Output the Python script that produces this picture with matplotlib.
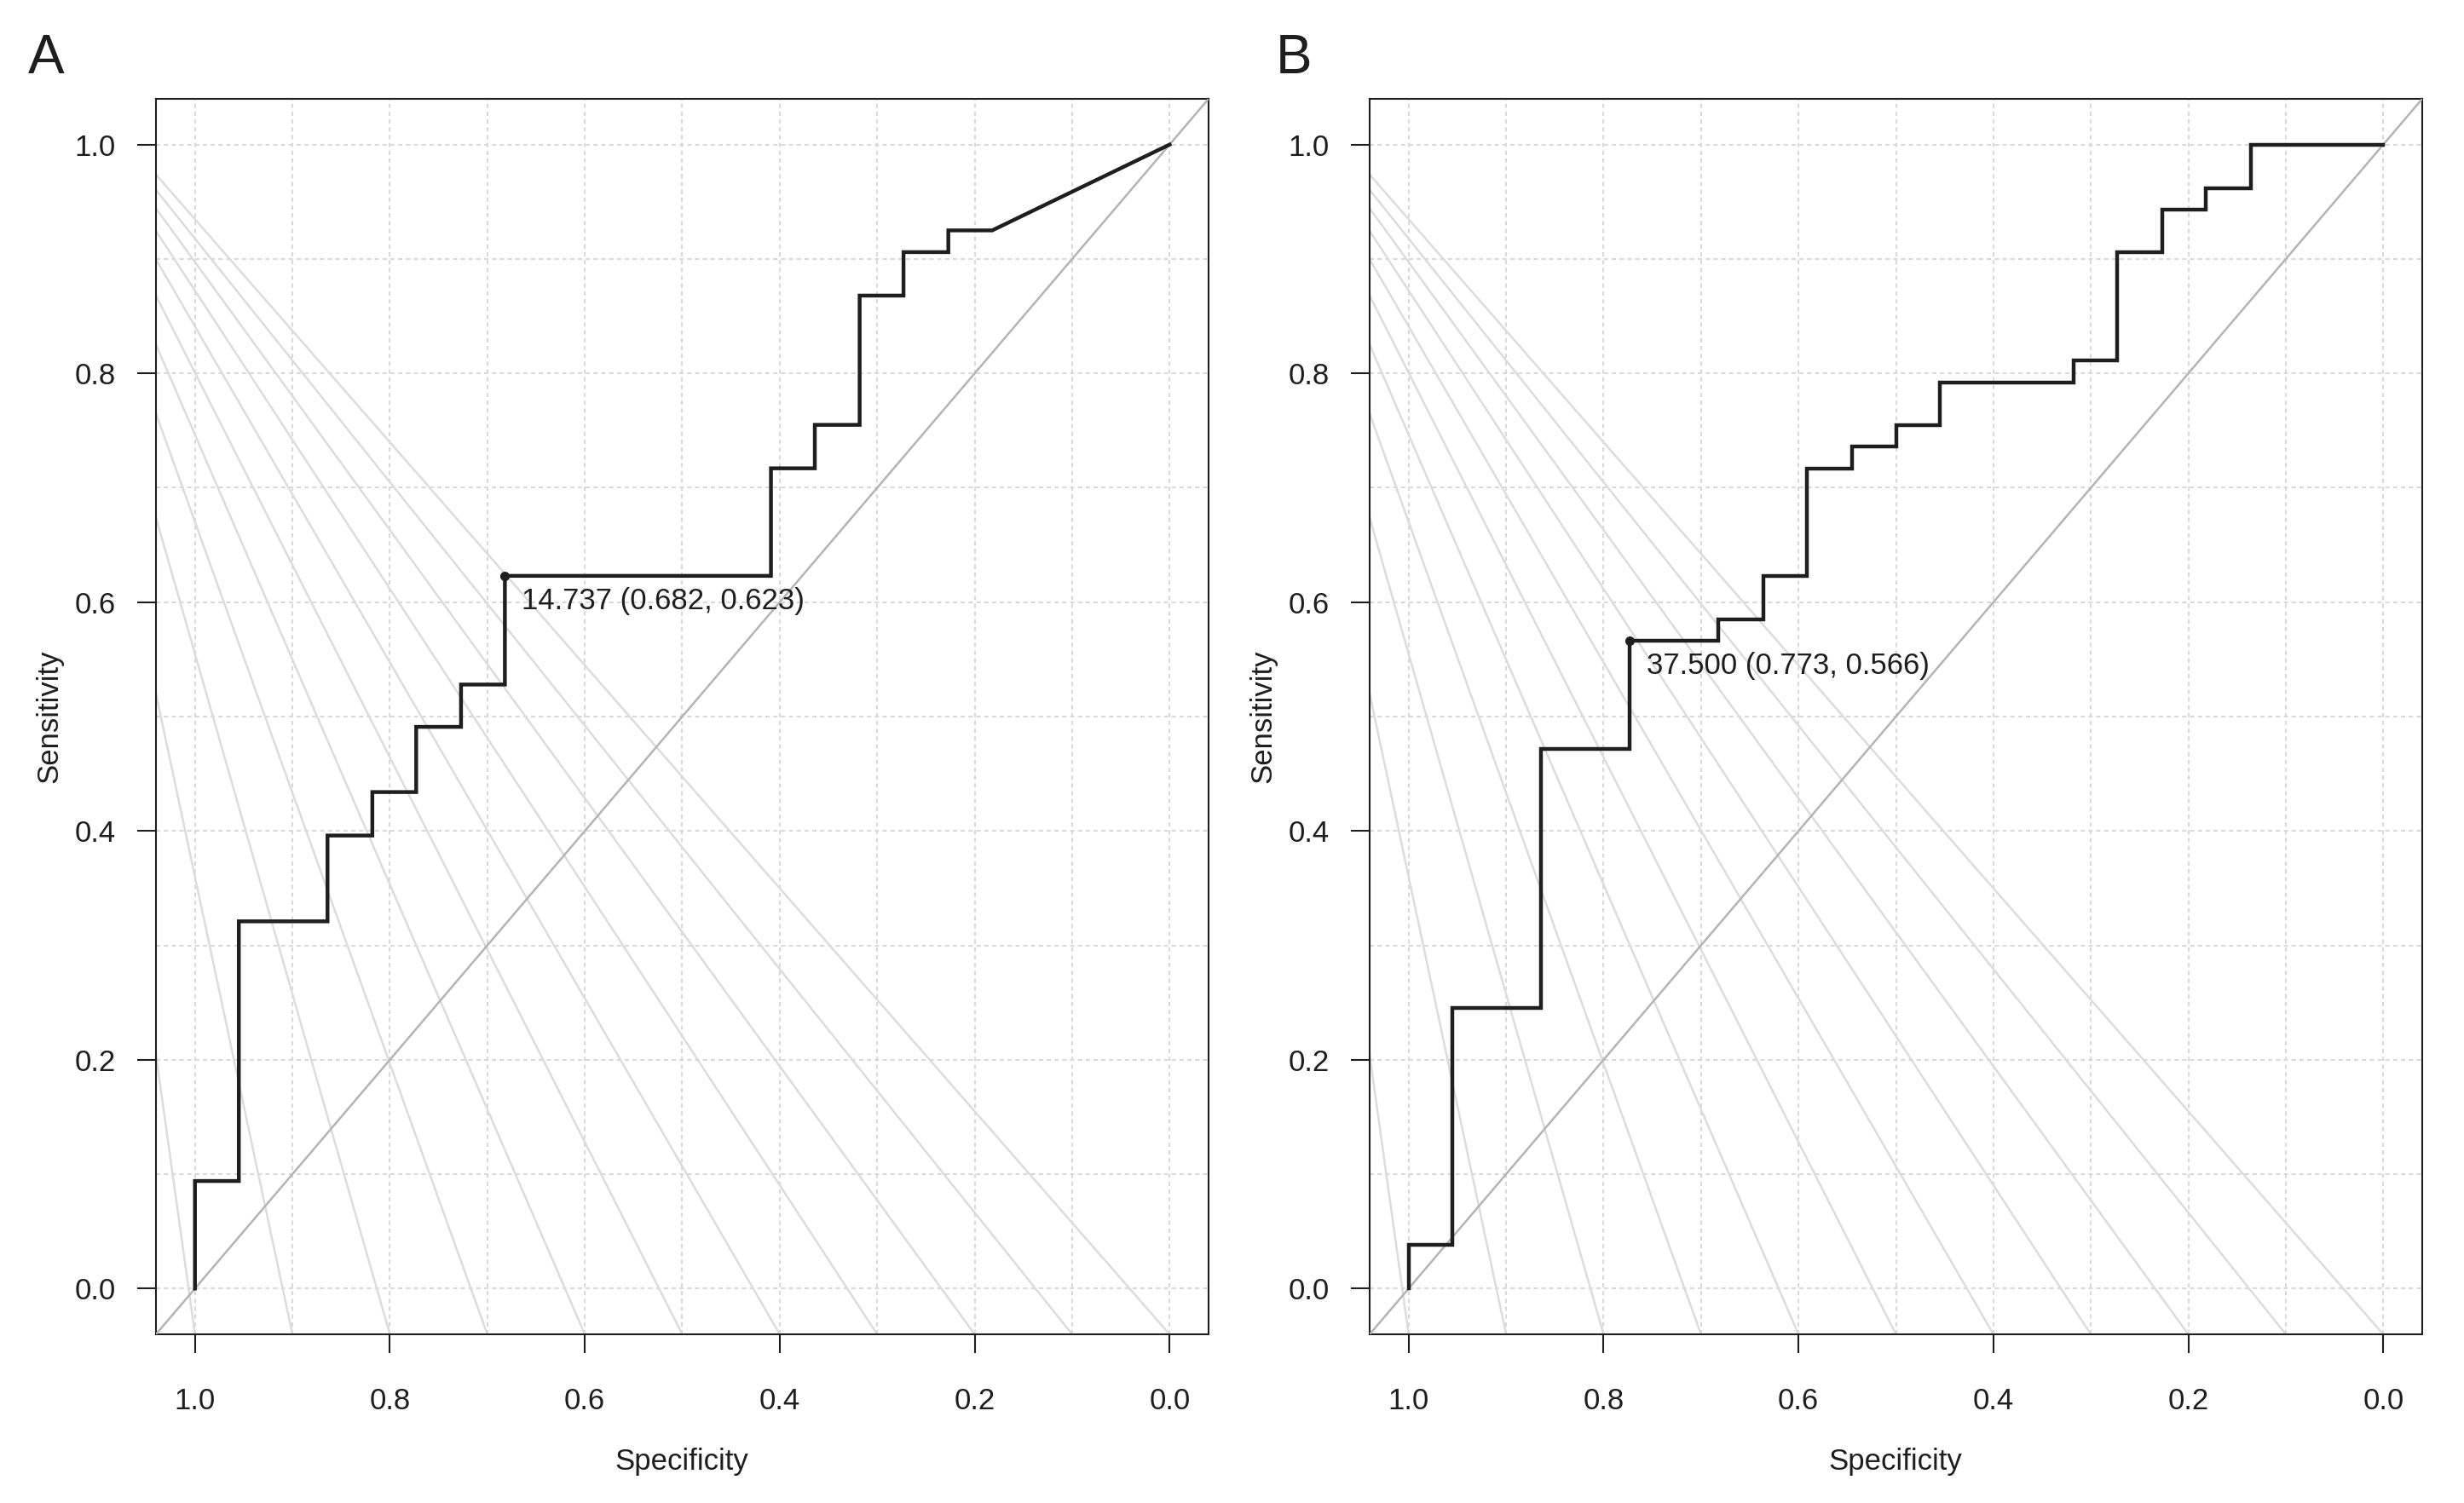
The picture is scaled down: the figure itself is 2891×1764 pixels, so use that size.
import matplotlib
matplotlib.use('Agg')
import numpy as np
import matplotlib.pyplot as plt

plt.rcParams['font.family'] = ['Liberation Sans', 'DejaVu Sans']

# ROC curve A (specificity, sensitivity)
spec_a = [1.0, 1.0, 0.955, 0.955, 0.864, 0.864, 0.818, 0.818, 0.773, 0.773,
          0.727, 0.727, 0.682, 0.682, 0.409, 0.409, 0.364, 0.364, 0.318, 0.318,
          0.273, 0.273, 0.227, 0.227, 0.182, 0.0]
sens_a = [0.0, 0.094, 0.094, 0.321, 0.321, 0.396, 0.396, 0.434, 0.434, 0.491,
          0.491, 0.528, 0.528, 0.623, 0.623, 0.717, 0.717, 0.755, 0.755, 0.868,
          0.868, 0.906, 0.906, 0.925, 0.925, 1.0]
best_a = (0.682, 0.623)
label_a = '14.737 (0.682, 0.623)'

# ROC curve B
spec_b = [1.0, 1.0, 0.955, 0.955, 0.864, 0.864, 0.773, 0.773, 0.682, 0.682,
          0.636, 0.636, 0.591, 0.591, 0.545, 0.545, 0.5, 0.5, 0.455, 0.455,
          0.318, 0.318, 0.273, 0.273, 0.227, 0.227, 0.182, 0.182, 0.136, 0.136, 0.0]
sens_b = [0.0, 0.038, 0.038, 0.245, 0.245, 0.472, 0.472, 0.566, 0.566, 0.585,
          0.585, 0.623, 0.623, 0.717, 0.717, 0.736, 0.736, 0.755, 0.755, 0.792,
          0.792, 0.811, 0.811, 0.906, 0.906, 0.943, 0.943, 0.962, 0.962, 1.0, 1.0]
best_b = (0.773, 0.566)
label_b = '37.500 (0.773, 0.566)'

# background fan of light lines (common origin, ends on bottom edge)
fan_origin = (1.19, 1.12)
fan_ends = [0.0, 0.1, 0.2, 0.3, 0.4, 0.5, 0.6, 0.7, 0.8, 0.9, 1.0]

ticks = [1.0, 0.8, 0.6, 0.4, 0.2, 0.0]
grid_pos = np.round(np.arange(0, 1.01, 0.1), 2)

W, H = 2891, 1764
FS = 25
INK = '#1e1e1e'
fig = plt.figure(figsize=(W / 100., H / 100.), dpi=100)


def px_axes(left, top, right, bottom):
    return fig.add_axes([left / W, 1 - bottom / H, (right - left) / W, (bottom - top) / H])


def draw_panel(ax, spec, sens, best, label):
    lo, hi = -0.04, 1.04
    ax.set_xlim(hi, lo)
    ax.set_ylim(lo, hi)
    for g in grid_pos:
        ax.axvline(g, color='#d9d9d9', lw=1.5, ls=(0, (2.4, 2.0)), zorder=1)
        ax.axhline(g, color='#d9d9d9', lw=1.5, ls=(0, (2.4, 2.0)), zorder=1)
    for xe in fan_ends:
        ax.plot([fan_origin[0], xe], [fan_origin[1], lo], color='#dcdcdc', lw=1.8, zorder=2)
    ax.plot([hi, lo], [lo, hi], color='#b4b4b4', lw=1.8, zorder=3)
    ax.plot(spec, sens, color=INK, lw=3.2, zorder=4, solid_joinstyle='miter')
    ax.plot([best[0]], [best[1]], 'o', color=INK, ms=7, zorder=5)
    ax.annotate(label, xy=best, xytext=(14, -21), textcoords='offset points',
                fontsize=FS, color=INK, ha='left', va='center', zorder=6)
    ax.set_xticks(ticks)
    ax.set_yticks(ticks)
    ax.set_xticklabels(['%.1f' % t for t in ticks])
    ax.set_yticklabels(['%.1f' % t for t in ticks])
    ax.tick_params(length=16, width=1.5, color=INK, labelsize=FS,
                   labelcolor=INK, pad=29)
    ax.tick_params(axis='y', pad=18)
    for s in ax.spines.values():
        s.set_linewidth(1.5)
        s.set_color(INK)


ax1 = px_axes(183, 116, 1418, 1566)
draw_panel(ax1, spec_a, sens_a, best_a, label_a)
ax2 = px_axes(1607, 116, 2842, 1566)
draw_panel(ax2, spec_b, sens_b, best_b, label_b)

# axis titles
for xc, yx in [(800, 58), (2224, 1482)]:
    fig.text(xc / W, 1 - 1716 / H, 'Specificity', fontsize=FS, color=INK,
             ha='center', va='center')
    fig.text(yx / W, 1 - 841 / H, 'Sensitivity', fontsize=FS, color=INK,
             ha='center', va='center', rotation=90)

fig.text(33 / W, 1 - 86 / H, 'A', fontsize=46, color=INK, va='baseline', ha='left')
fig.text(1497 / W, 1 - 86 / H, 'B', fontsize=46, color=INK, va='baseline', ha='left')

plt.savefig('out.png', dpi=100)
